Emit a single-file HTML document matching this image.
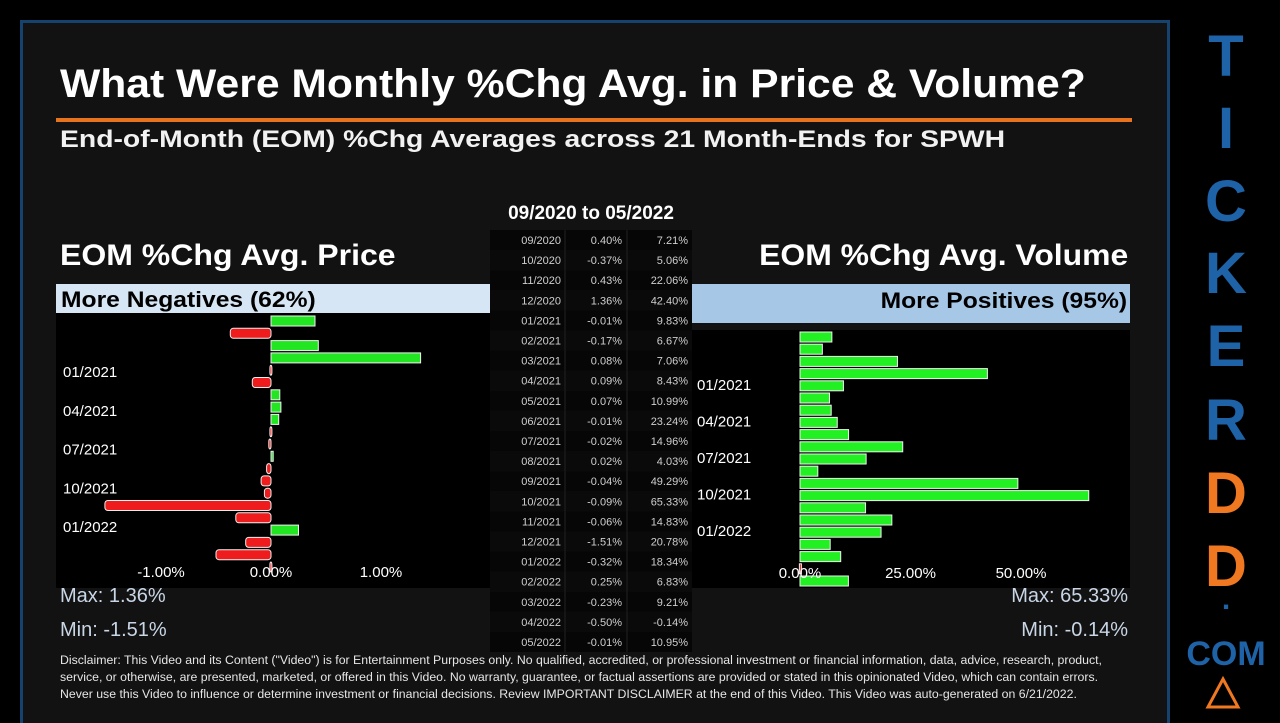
<!DOCTYPE html>
<html><head><meta charset="utf-8"><style>
body{margin:0;width:1280px;height:720px;background:#000;overflow:hidden;font-family:"Liberation Sans",sans-serif;position:relative}
.frame{position:absolute;left:20px;top:20px;width:1144px;height:700px;border:3px solid #16426e;border-bottom:none;background:#121212}
.abs{position:absolute;white-space:nowrap}
.letter{position:absolute;width:86px;left:1183px;text-align:center;font-weight:bold;font-size:58px;color:#1e63a8;line-height:1}
</style></head><body>
<div class="frame"></div>
<div class="abs" style="left:60px;top:62px;font-size:40px;transform:scaleX(1.066);transform-origin:0 0;font-weight:bold;color:#fff">What Were Monthly %Chg Avg. in Price &amp; Volume?</div>
<div class="abs" style="left:56px;top:118px;width:1076px;height:4px;background:#e8731e"></div>
<div class="abs" style="left:60px;top:126px;font-size:24px;transform:scaleX(1.18);transform-origin:0 0;font-weight:bold;color:#f2f2f2">End-of-Month (EOM) %Chg Averages across 21 Month-Ends for SPWH</div>
<div class="abs" style="left:60px;top:239px;font-size:30px;transform:scaleX(1.067);transform-origin:0 0;font-weight:bold;color:#fff">EOM %Chg Avg. Price</div>
<div class="abs" style="right:152px;top:239px;font-size:30px;transform:scaleX(1.063);transform-origin:100% 0;font-weight:bold;color:#fff">EOM %Chg Avg. Volume</div>
<div class="abs" style="left:480px;width:222px;text-align:center;top:203px;font-size:19px;font-weight:bold;color:#fff">09/2020 to 05/2022</div>
<div class="abs" style="left:56px;top:284px;width:434px;height:29px;background:#d6e6f5;"></div>
<div class="abs" style="left:61px;top:284px;color:#000;font-weight:bold;font-size:22px;line-height:32px;transform:scaleX(1.12);transform-origin:0 0">More Negatives (62%)</div>
<div class="abs" style="left:692px;top:284px;width:438px;height:39px;background:#a7c7e7"></div>
<div class="abs" style="right:153px;top:284px;color:#000;font-weight:bold;font-size:22px;line-height:34px;transform:scaleX(1.12);transform-origin:100% 0">More Positives (95%)</div>
<svg class="abs" style="left:0;top:0" width="1280" height="720" id="svg"></svg>
<div class="abs" style="left:60px;top:585px;font-size:20px;color:#c8d6e6">Max: 1.36%</div>
<div class="abs" style="left:60px;top:619px;font-size:20px;color:#c8d6e6">Min: -1.51%</div>
<div class="abs" style="right:152px;top:585px;font-size:20px;color:#c8d6e6">Max: 65.33%</div>
<div class="abs" style="right:152px;top:619px;font-size:20px;color:#c8d6e6">Min: -0.14%</div>
<div class="abs" style="left:60px;top:652px;font-size:12.3px;line-height:17px;color:#e6e6e6;white-space:normal;width:1062px">Disclaimer: This Video and its Content ("Video") is for Entertainment Purposes only. No qualified, accredited, or professional investment or financial information, data, advice, research, product, service, or otherwise, are presented, marketed, or offered in this Video. No warranty, guarantee, or factual assertions are provided or stated in this opinionated Video, which can contain errors. Never use this Video to influence or determine investment or financial decisions. Review IMPORTANT DISCLAIMER at the end of this Video. This Video was auto-generated on 6/21/2022.</div>
<div class="letter" style="top:28px">T</div>
<div class="letter" style="top:100px">I</div>
<div class="letter" style="top:173px">C</div>
<div class="letter" style="top:245px">K</div>
<div class="letter" style="top:318px">E</div>
<div class="letter" style="top:392px">R</div>
<div class="letter" style="top:465px;color:#f07820">D</div>
<div class="letter" style="top:538px;color:#f07820">D</div>
<div class="letter" style="top:585px;font-size:30px">.</div>
<div class="letter" style="top:637px;font-size:34px">COM</div>
<svg class="abs" style="left:1205px;top:676px" width="36" height="34"><polygon points="18,3 33,31 3,31" fill="none" stroke="#f07820" stroke-width="3"/></svg>
<script>
const months=["09/2020","10/2020","11/2020","12/2020","01/2021","02/2021","03/2021","04/2021","05/2021","06/2021","07/2021","08/2021","09/2021","10/2021","11/2021","12/2021","01/2022","02/2022","03/2022","04/2022","05/2022"];
const priceChg=[0.40,-0.37,0.43,1.36,-0.01,-0.17,0.08,0.09,0.07,-0.01,-0.02,0.02,-0.04,-0.09,-0.06,-1.51,-0.32,0.25,-0.23,-0.50,-0.01];
const volChg=[7.21,5.06,22.06,42.40,9.83,6.67,7.06,8.43,10.99,23.24,14.96,4.03,49.29,65.33,14.83,20.78,18.34,6.83,9.21,-0.14,10.95];
const priceTicks=[-1,0,1];
const volTicks=[0,25,50];
const priceLabels=["01/2021","04/2021","07/2021","10/2021","01/2022"];
const volLabels=["01/2021","04/2021","07/2021","10/2021","01/2022"];
const NS="http://www.w3.org/2000/svg";
const svg=document.getElementById('svg');
function el(tag,attrs,parent){const e=document.createElementNS(NS,tag);for(const k in attrs)e.setAttribute(k,attrs[k]);(parent||svg).appendChild(e);return e;}
let r=el('rect',{x:56,y:313,width:434,height:275,fill:'#000'});

r=el('rect',{x:692,y:330,width:438,height:258,fill:'#000'});

const px=v=>271+v*110;
const py=i=>321+i*12.3;
const vx=v=>800+v*4.42;
const vy=i=>337+i*12.2;
priceChg.forEach((v,i)=>{
  const x0=Math.min(px(0),px(v)),w=Math.max(Math.abs(px(v)-px(0)),2);
  const b=el('rect',{x:x0,y:py(i)-5,width:w,height:10,fill:v>=0?'#22e622':'#ee1c1c',stroke:'#f0f0f0','stroke-width':1,rx:v>=0?0:3});
  
  
});
priceTicks.forEach(t=>{
  const tx=el('text',{x:px(t),y:577,fill:'#fff','font-size':15,'text-anchor':'middle','font-family':'Liberation Sans'});
  tx.textContent=t.toFixed(2)+'%';
  
  
});
priceLabels.forEach((m,k)=>{
  const tx=el('text',{x:63,y:377+k*38.8,fill:'#fff','font-size':15,'font-family':'Liberation Sans'});
  tx.textContent=m;
  
  
});
volChg.forEach((v,i)=>{
  const x0=Math.min(vx(0),vx(v)),w=Math.max(Math.abs(vx(v)-vx(0)),2);
  const b=el('rect',{x:x0,y:vy(i)-5,width:w,height:10,fill:v>=0?'#22f022':'#ee1c1c',stroke:'#f0f0f0','stroke-width':1});
  
  
});
volTicks.forEach(t=>{
  const tx=el('text',{x:vx(t),y:578,fill:'#fff','font-size':15,'text-anchor':'middle','font-family':'Liberation Sans'});
  tx.textContent=t.toFixed(2)+'%';
  
  
});
volLabels.forEach((m,k)=>{
  const tx=el('text',{x:697,y:390+k*36.5,fill:'#fff','font-size':15,'font-family':'Liberation Sans'});
  tx.textContent=m;
  
  
});
months.forEach((m,i)=>{
  const y=230+i*20.1;
  const row=el('rect',{x:490,y:y,width:202,height:20,fill:i%2?'#0a0a0a':'#060606'});
  
  
  el('line',{x1:565,y1:y,x2:565,y2:y+20,stroke:'#222'});
  el('line',{x1:627,y1:y,x2:627,y2:y+20,stroke:'#222'});
  const cells=[[m,561],[priceChg[i].toFixed(2)+'%',622],[volChg[i].toFixed(2)+'%',688]];
  cells.forEach(c=>{
    const t=el('text',{x:c[1],y:y+14,fill:'#cfcfcf','font-size':11,'text-anchor':'end','font-family':'Liberation Sans'});
    t.textContent=c[0];
    
    
  });
});
</script>
</body></html>
